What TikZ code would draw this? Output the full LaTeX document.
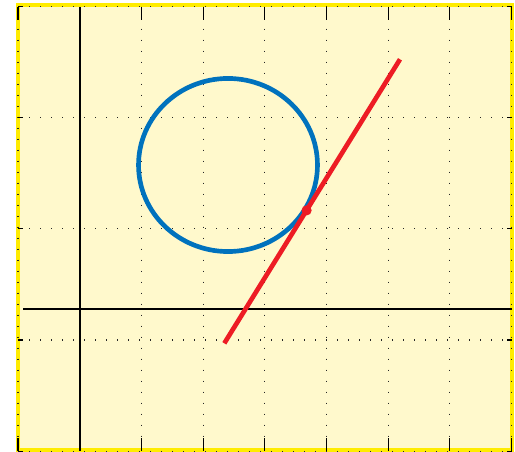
\documentclass[tikz,border=0pt]{standalone}
\definecolor{paper}{RGB}{255,249,204}
\definecolor{yellowB}{RGB}{255,236,0}
\definecolor{blueC}{RGB}{0,114,189}
\definecolor{redL}{RGB}{237,28,36}
\begin{document}
\begin{tikzpicture}[x=0.75pt,y=-0.75pt,
  gridline/.style={black!85, line width=0.8pt, dash pattern=on 0.75pt off 7.5pt},
  axisline/.style={black, line width=1.6pt},
  tickline/.style={black, line width=0.8pt},
  frameline/.style={draw=yellowB, line width=3pt, fill=paper},
  circ/.style={draw=blueC, line width=3.5pt},
  redline/.style={draw=redL, line width=3.5pt},
  reddot/.style={circle, fill=redL, inner sep=0pt, minimum size=7.6pt}]
\useasboundingbox (0,0) rectangle (515,452);
\path[fill=white] (0,0) rectangle (515,452);
\draw[frameline] (18,5) rectangle (511.5,450);
% grid
\foreach \k in {0,2,3,4,5,6,7,8}
  \draw[gridline] ({18+61.69*\k},6.7) -- ({18+61.69*\k},451);
\foreach \k in {0,...,4}
  \draw[gridline] (18,{6.7+111.1*\k}) -- (511.5,{6.7+111.1*\k});
% ticks
\foreach \k in {0,...,8}{
  \draw[tickline] ({18+61.69*\k},6.7) -- ({18+61.69*\k},19.7);
  \draw[tickline] ({18+61.69*\k},451) -- ({18+61.69*\k},438);
}
\foreach \k in {0,...,4}{
  \draw[tickline] (18,{6.7+111.1*\k}) -- (23,{6.7+111.1*\k});
  \draw[tickline] (511.5,{6.7+111.1*\k}) -- (506.5,{6.7+111.1*\k});
}
% axes
\coordinate (ytop) at (80,6.7);
\coordinate (ybot) at (80,451);
\coordinate (xl) at (23,309);
\coordinate (xr) at (511.5,309);
\draw[axisline] (ytop) -- (ybot);
\draw[axisline] (xl) -- (xr);
% circle
\coordinate (C) at (228,165);
\draw[circ] (C) ellipse [x radius=67.1pt, y radius=64.9pt];
% line
\coordinate (A) at (224.3,343.3);
\coordinate (B) at (400,59.3);
\draw[redline] (A) -- (B);
\node[reddot] (P) at (306.6,210.4) {};
\end{tikzpicture}
\end{document}
